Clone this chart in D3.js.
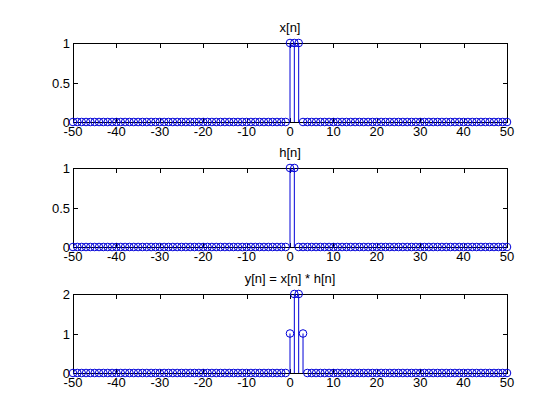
<!DOCTYPE html>
<html><head><meta charset="utf-8">
<script src="https://cdn.jsdelivr.net/npm/d3@7"></script>
<style>body{margin:0;background:#fff}svg{display:block}text{font-family:"Liberation Sans",Arial,sans-serif;font-size:13px;fill:#000}</style>
</head><body><svg id="c" width="560" height="420"></svg>
<script>
const nRange = [-50, 50];
const xTicks = [-50, -40, -30, -20, -10, 0, 10, 20, 30, 40, 50];
// nonzero samples of each signal (all other n in range are 0)
const xN = [0, 1, 2], xV = [1, 1, 1];
const hN = [0, 1], hV = [1, 1];
const yN = [0, 1, 2, 3], yV = [1, 2, 2, 1];
const titles = ["x[n]", "h[n]", "y[n] = x[n] * h[n]"];
const yMax = [1, 1, 2];
const yTicks = [[0, 0.5, 1], [0, 0.5, 1], [0, 1, 2]];
const yTickLabels = [["0", "0.5", "1"], ["0", "0.5", "1"], ["0", "1", "2"]];

const panels = [[xN, xV], [hN, hV], [yN, yV]];
const svg = d3.select("#c");
const left = 73, right = 507, tops = [43, 168, 294], h = 79;
const color = "#0000d8";
const tl = 4.5;

panels.forEach(([ns, vs], i) => {
  const top = tops[i], bot = top + h;
  const x = d3.scaleLinear().domain(nRange).range([left, right]);
  const y = d3.scaleLinear().domain([0, yMax[i]]).range([bot, top]);
  const g = svg.append("g");
  const all = d3.range(nRange[0], nRange[1] + 1).map(n => {
    const k = ns.indexOf(n);
    return {n, v: k >= 0 ? vs[k] : 0};
  });
  g.append("rect").attr("x", left + 0.5).attr("y", top + 0.5)
    .attr("width", right - left).attr("height", h)
    .attr("fill", "none").attr("stroke", "#000");
  xTicks.forEach(t => {
    const px = Math.round(x(t)) + 0.5;
    g.append("line").attr("x1", px).attr("x2", px).attr("y1", bot + 0.5).attr("y2", bot + 0.5 - tl).attr("stroke", "#000");
    g.append("line").attr("x1", px).attr("x2", px).attr("y1", top + 0.5).attr("y2", top + 0.5 + tl).attr("stroke", "#000");
    g.append("text").attr("x", x(t)).attr("y", bot + 14).attr("text-anchor", "middle").text(t);
  });
  yTicks[i].forEach((t, j) => {
    const py = Math.round(y(t)) + 0.5;
    g.append("line").attr("x1", left + 0.5).attr("x2", left + 0.5 + tl).attr("y1", py).attr("y2", py).attr("stroke", "#000");
    g.append("line").attr("x1", right + 0.5).attr("x2", right + 0.5 - tl).attr("y1", py).attr("y2", py).attr("stroke", "#000");
    g.append("text").attr("x", left - 3).attr("y", y(t) + 5).attr("text-anchor", "end").text(yTickLabels[i][j]);
  });
  g.append("line").attr("x1", x(nRange[0])).attr("x2", x(nRange[1])).attr("y1", y(0) + 0.5).attr("y2", y(0) + 0.5).attr("stroke", "#000");
  g.selectAll(".stem").data(all.filter(d => d.v !== 0)).enter().append("line")
    .attr("x1", d => x(d.n)).attr("x2", d => x(d.n))
    .attr("y1", y(0)).attr("y2", d => y(d.v)).attr("stroke", color);
  g.selectAll(".mk").data(all).enter().append("circle")
    .attr("cx", d => x(d.n)).attr("cy", d => y(d.v)).attr("r", 3.8)
    .attr("fill", "none").attr("stroke", color);
  g.append("text").attr("x", (left + right) / 2).attr("y", top - 11).attr("text-anchor", "middle").text(titles[i]);
});
</script></body></html>
